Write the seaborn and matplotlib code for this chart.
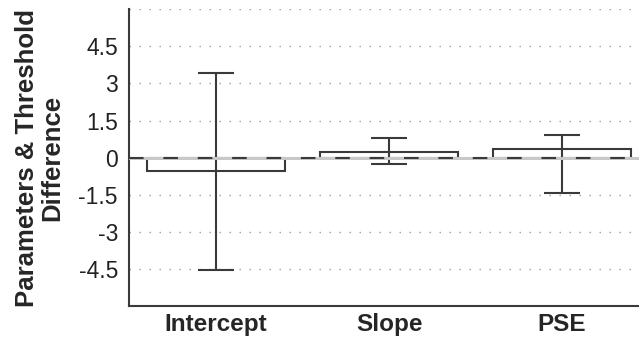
import numpy as np
import pandas as pd
import matplotlib
matplotlib.use("Agg")
import matplotlib.pyplot as plt
import seaborn as sns

# values
categories = ["Intercept", "Slope", "PSE"]
means = [-0.54, 0.24, 0.36]
err_upper = [3.4, 0.79, 0.9]
err_lower = [-4.54, -0.24, -1.44]
y_ticks = [-4.5, -3, -1.5, 0, 1.5, 3, 4.5]
y_tick_labels = ["-4.5", "-3", "-1.5", "0", "1.5", "3", "4.5"]

sns.set_style("white")
plt.rcParams["font.family"] = ["Liberation Sans", "DejaVu Sans"]

df = pd.DataFrame({"param": categories, "diff": means})
dark = "#3a3a3a"

fig = plt.figure(figsize=(6.39, 3.39), dpi=100)
ax = fig.add_axes([0.202, 0.097, 0.798, 0.876])

sns.barplot(data=df, x="param", y="diff", color="white", edgecolor=dark,
            linewidth=1.5, width=0.8, errorbar=None, ax=ax, zorder=2)

x = np.arange(len(categories))
lo = np.array(means) - np.array(err_lower)
hi = np.array(err_upper) - np.array(means)
ax.errorbar(x, means, yerr=[lo, hi], fmt="none", ecolor=dark,
            elinewidth=1.5, capsize=13, capthick=1.5, zorder=3)

# zero line: light solid under a dark dashed one
ax.axhline(0, color="#c8c8c8", lw=2.2, zorder=4)
ax.axhline(0, color=dark, lw=1.5, ls=(0, (7, 9.5)), zorder=5)

ax.set_ylim(-6, 6)
ax.set_xlim(-0.503, 2.445)
for g in [-4.5, -3, -1.5, 1.5, 3, 4.5, 6]:
    ax.axhline(g, color="#9a9a9a", lw=1.0, ls=(0, (1, 6.2)), zorder=1)

ax.set_yticks(y_ticks)
ax.set_yticklabels(y_tick_labels, fontsize=16.5)
ax.tick_params(axis="y", length=0, pad=8, colors="#222222")
ax.tick_params(axis="x", direction="in", length=5, width=1.5, color=dark,
               pad=5, labelsize=17.5)
for lab in ax.get_xticklabels():
    lab.set_fontweight("bold")

ax.set_xlabel("")
ax.set_ylabel("Parameters & Threshold\nDifference", fontsize=18.5,
              fontweight="bold", labelpad=10, linespacing=1.08)

for side in ["top", "right"]:
    ax.spines[side].set_visible(False)
for side in ["left", "bottom"]:
    ax.spines[side].set_color(dark)
    ax.spines[side].set_linewidth(1.5)

fig.savefig("out.png", dpi=100)
